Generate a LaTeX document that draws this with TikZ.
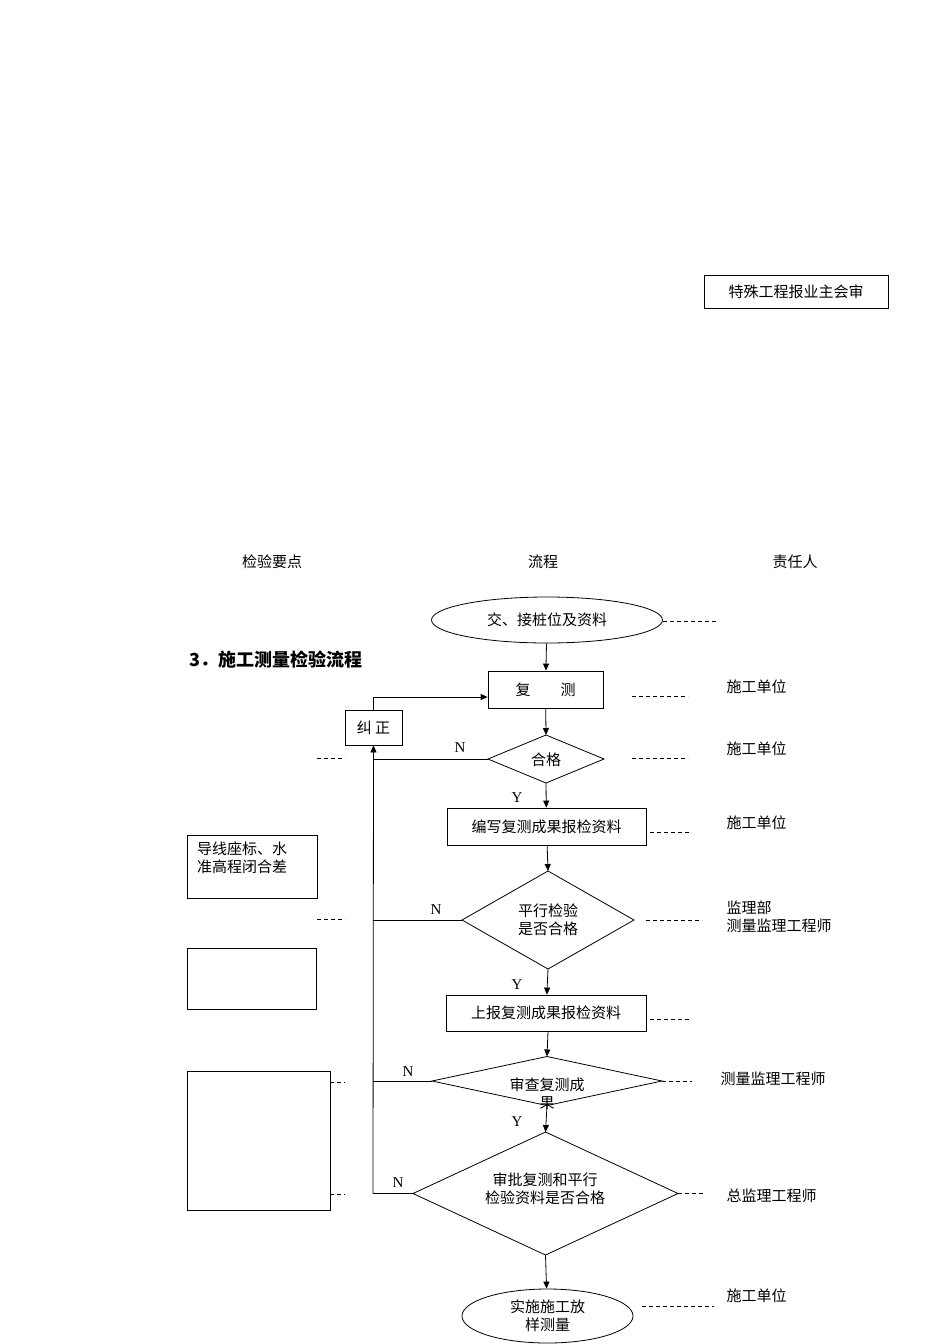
\documentclass[tikz,border=0pt]{standalone}
\usepackage{fontspec}
\setmainfont{Liberation Serif}
\newfontfamily\cjk{Noto Sans CJK SC}
\usetikzlibrary{shapes.geometric,arrows.meta}
\begin{document}
\begin{tikzpicture}[x=1pt,y={(0,-1pt)},font=\cjk\fontsize{15}{18}\selectfont,
  box/.style={draw,line width=0.8pt,inner sep=0pt},
  oval/.style={draw,ellipse,line width=0.8pt,inner sep=0pt},
  dsh/.style={dashed,dash pattern=on 4pt off 3pt,line width=0.6pt},
  ln/.style={line width=0.8pt},
  arr/.style={line width=0.8pt,-{Triangle[length=7pt,width=6pt]}},
  lab/.style={font=\fontsize{15}{18}\selectfont\rmfamily}]
\useasboundingbox (0,0) rectangle (950,1344);
\newcommand\dia[5]{% name, cx, cy, halfw, halfh
  \draw[ln] (#2-#4,#3) coordinate(#1w) -- (#2,#3-#5) coordinate(#1n) -- (#2+#4,#3) coordinate(#1e) -- (#2,#3+#5) coordinate(#1s) -- cycle;}
\node[box,minimum width=184,minimum height=33] (spec) at (796,291.5) {特殊工程报业主会审};
\node (h1) at (272,562) {检验要点};
\node (h2) at (543,562) {流程};
\node (h3) at (795,562) {责任人};
\node[font=\cjk\bfseries\fontsize{18}{21}\selectfont,anchor=west] (title) at (186,660) {3．施工测量检验流程};
\node[oval,minimum width=231,minimum height=46] (e1) at (547,620) {交、接桩位及资料};
\node[box,minimum width=115,minimum height=37] (fc) at (545.5,689.5) {复\hspace{2em}测};
\node[box,minimum width=57,minimum height=35] (jz) at (373.5,727.5) {纠 正};
\dia{d1}{546}{759}{58}{24}
\node (d1t) at (546,760) {合格};
\node[box,minimum width=199,minimum height=37] (bx) at (546.5,826.5) {编写复测成果报检资料};
\node[box,minimum width=130,minimum height=63] (dx) at (252,866.5) {};
\node[anchor=north west,align=left,inner sep=0pt] (dxt) at (197,842) {导线座标、水\\准高程闭合差};
\dia{d2}{548}{920}{86}{49}
\node[align=center] (d2t) at (548,920) {平行检验\\是否合格};
\node[box,minimum width=129,minimum height=61] (emp) at (251.5,978.5) {};
\node[box,minimum width=200,minimum height=36] (sb) at (546,1013) {上报复测成果报检资料};
\dia{d3}{547}{1081}{115}{24.5}
\node[align=center] (d3t) at (547,1094) {审查复测成\\果};
\node[box,minimum width=143,minimum height=139] (tall) at (258.5,1140.5) {};
\dia{d4}{545.5}{1193.5}{132.5}{61.5}
\node[align=center] (d4t) at (545,1189) {审批复测和平行\\检验资料是否合格};
\node[oval,minimum width=171,minimum height=54,align=center] (e2) at (547.5,1316) {实施施工放\\样测量};
% arrows
\draw[arr] (e1) -- (fc);
\draw[arr] (fc) -- (d1n);
\draw[arr] (d1s) -- (bx);
\draw[arr] (bx) -- (d2n);
\draw[arr] (d2s) -- (sb);
\draw[arr] (sb.south -| 548,0) -- (d3n);
\draw[arr] (d3s) -- (d4n);
\draw[arr] (d4s) -- (e2);
% feedback
\coordinate (b4) at (373,1193.5);
\draw[ln] (d4w) -- (b4);
\draw[ln] (d3w) -- (373,1081);
\draw[ln] (d2w) -- (373,920);
\draw[ln] (d1w) -- (373,759);
\draw[arr] (b4) -- (jz.south);
\draw[arr] (jz.north) |- (fc.west |- 0,697);
% labels
\node[lab] (n1) at (460,748) {N};
\node[lab] (y1) at (517,798) {Y};
\node[lab] (n2) at (436,910) {N};
\node[lab] (y2) at (517,985) {Y};
\node[lab] (n3) at (408,1072) {N};
\node[lab] (y3) at (517,1122) {Y};
\node[lab] (n4) at (398,1183) {N};
% dashes
\draw[dsh] (663,621) -- (718,621);
\draw[dsh] (632,696) -- (688,696);
\draw[dsh] (632,758) -- (688,758);
\draw[dsh] (317,758) -- (345,758);
\draw[dsh] (650,832) -- (692,832);
\draw[dsh] (646,920) -- (702,920);
\draw[dsh] (317,919) -- (345,919);
\draw[dsh] (650,1019) -- (692,1019);
\draw[dsh] (d3e) -- (692,1081);
\draw[dsh] (330,1082) -- (345,1082);
\draw[dsh] (330,1194) -- (345,1194);
\draw[dsh] (d4e) -- (705,1193.5);
\draw[dsh] (642,1306) -- (714,1306);
% responsible
\node[anchor=west] (r1) at (723,687) {施工单位};
\node[anchor=west] (r2) at (723,749) {施工单位};
\node[anchor=west] (r3) at (723,823) {施工单位};
\node[anchor=west,align=left] (r4) at (723,917) {监理部\\测量监理工程师};
\node[anchor=west] (r5) at (717,1079) {测量监理工程师};
\node[anchor=west] (r6) at (723,1196) {总监理工程师};
\node[anchor=west] (r7) at (723,1296) {施工单位};
\end{tikzpicture}
\end{document}
